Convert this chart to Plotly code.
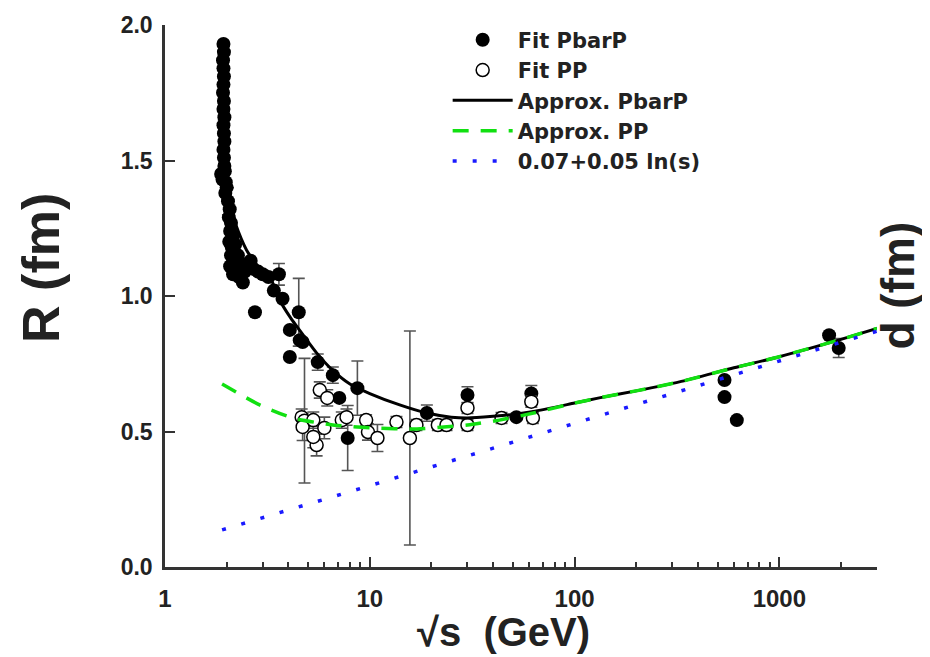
import plotly.graph_objects as go

# ---- data ----
pbarp_x = [1.93, 1.94, 1.92, 1.93, 1.94, 1.93, 1.92, 1.94, 1.93, 1.95, 1.93, 1.94, 1.95, 1.93, 1.94, 1.95,
           1.96, 1.88, 1.91, 1.98, 2.00, 1.97,
           2.03, 2.07, 2.05, 2.10, 2.08, 2.14, 2.06, 2.12, 2.20, 2.10, 2.18, 2.27, 2.08, 2.22, 2.35, 2.15,
           2.30, 2.45, 2.55, 2.40, 2.62, 2.70, 2.85, 3.00, 3.20,
           2.75, 3.60, 3.40, 3.75, 4.07, 4.50, 4.55, 4.70, 4.07, 5.57, 6.60, 7.10, 8.70, 7.80,
           19.0, 30.0, 52.0, 61.5, 540.0, 540.0, 620.0, 1750.0, 1950.0]
pbarp_y = [1.93, 1.90, 1.87, 1.84, 1.81, 1.78, 1.75, 1.72, 1.69, 1.66, 1.63, 1.60, 1.57, 1.54, 1.51, 1.48,
           1.46, 1.45, 1.43, 1.42, 1.40, 1.38,
           1.35, 1.32, 1.29, 1.27, 1.24, 1.22, 1.20, 1.18, 1.19, 1.15, 1.13, 1.15, 1.11, 1.10, 1.12, 1.08,
           1.07, 1.09, 1.11, 1.05, 1.13, 1.10, 1.09, 1.08, 1.07,
           0.94, 1.08, 1.02, 0.99, 0.875, 0.94, 0.837, 0.83, 0.775, 0.756, 0.708, 0.624, 0.66, 0.476,
           0.568, 0.635, 0.553, 0.64, 0.69, 0.627, 0.542, 0.855, 0.808]
pbarp_err = [0] * 22 + [0.05] + [0] * 24 + \
            [0, 0.04, 0, 0, 0, 0.125, 0, 0, 0, 0.03, 0.03, 0, 0.10, 0.12,
             0.03, 0.03, 0, 0.03, 0, 0, 0, 0, 0.035]

pp_x = [4.65, 4.80, 4.70, 5.30, 5.50, 5.30, 5.70, 6.20, 6.00, 7.30, 7.70, 9.60, 9.80, 10.9,
        13.5, 15.7, 16.9, 21.5, 23.7, 30.0, 30.0, 44.0, 62.6, 61.5]
pp_y = [0.553, 0.54, 0.517, 0.542, 0.45, 0.48, 0.653, 0.624, 0.513, 0.542, 0.553, 0.542, 0.498, 0.476,
        0.535, 0.476, 0.524, 0.524, 0.524, 0.587, 0.524, 0.55, 0.55, 0.61]
pp_err = [0.03, 0.23, 0.05, 0.03, 0.04, 0.04, 0.03, 0.03, 0.04, 0.03, 0.03, 0.02, 0.03, 0.05,
          0.02, 0.395, 0.02, 0.02, 0.02, 0.02, 0.02, 0.02, 0.02, 0.02]

approx_pbarp_x = [2.03, 2.2, 2.5, 2.9, 3.3, 3.6, 4.1, 4.9, 5.5, 6.5, 8, 10, 14, 19, 25, 30, 40, 50, 63,
                  100, 132, 200, 325, 600, 1000, 2000, 3000]
approx_pbarp_y = [1.36, 1.27, 1.17, 1.10, 1.06, 0.99, 0.92, 0.84, 0.79, 0.73, 0.675, 0.64, 0.598, 0.568,
                  0.553, 0.55, 0.556, 0.563, 0.574, 0.605, 0.624, 0.65, 0.683, 0.735, 0.776, 0.84, 0.88]

approx_pp_x = [1.9, 2.9, 4.2, 6.6, 10.3, 17, 23, 30, 43, 63, 100, 132, 200, 325, 600, 1000, 2000, 3000]
approx_pp_y = [0.675, 0.598, 0.55, 0.524, 0.513, 0.509, 0.517, 0.524, 0.542, 0.568, 0.605, 0.624, 0.65,
               0.683, 0.735, 0.776, 0.84, 0.88]

logs_x = [1.9, 10, 100, 1000, 3000]
logs_y = [0.137, 0.30, 0.53, 0.76, 0.87]

x_tickvals = [1, 10, 100, 1000]
x_ticktext = ["1", "10", "100", "1000"]
x_minor = [2, 3, 4, 5, 6, 7, 8, 9, 20, 30, 40, 50, 60, 70, 80, 90,
           200, 300, 400, 500, 600, 700, 800, 900, 2000, 3000]
y_tickvals = [0.0, 0.5, 1.0, 1.5, 2.0]
y_ticktext = ["0.0", "0.5", "1.0", "1.5", "2.0"]

FONT = "Liberation Sans, Arial, sans-serif"
LEGFONT = "DejaVu Sans, Liberation Sans, sans-serif"
AX = "#333333"
ERR = "#555555"

fig = go.Figure()

fig.add_trace(go.Scatter(
    x=pbarp_x, y=pbarp_y, mode="markers", name="Fit PbarP",
    marker=dict(symbol="circle", size=14, color="black", line=dict(width=0)),
    error_y=dict(type="data", array=pbarp_err, visible=True, color=ERR, thickness=1.6, width=6),
))
fig.add_trace(go.Scatter(
    x=pp_x, y=pp_y, mode="markers", name="Fit PP",
    marker=dict(symbol="circle", size=13, color="white", line=dict(width=1.5, color="black")),
    error_y=dict(type="data", array=pp_err, visible=True, color=ERR, thickness=1.6, width=6),
))
fig.add_trace(go.Scatter(
    x=approx_pbarp_x, y=approx_pbarp_y, mode="lines", name="Approx. PbarP",
    line=dict(color="black", width=3, shape="spline", smoothing=0.6),
))
fig.add_trace(go.Scatter(
    x=approx_pp_x, y=approx_pp_y, mode="lines", name="Approx. PP",
    line=dict(color="#11e011", width=3.5, dash="16px,12px", shape="spline", smoothing=0.6),
))
fig.add_trace(go.Scatter(
    x=logs_x, y=logs_y, mode="lines", name="0.07+0.05 ln(s)",
    line=dict(color="#1a1aff", width=3.5, dash="4px,16px"),
))

fig.update_layout(
    width=922, height=649,
    margin=dict(l=157, r=53, t=17, b=90, autoexpand=False),
    paper_bgcolor="white", plot_bgcolor="white",
    font=dict(family=FONT, color="#222222"),
    showlegend=True,
    legend=dict(
        x=0.397, y=1.01, xanchor="left", yanchor="top",
        bgcolor="rgba(0,0,0,0)", borderwidth=0,
        font=dict(family=LEGFONT, size=21, color="#222222", weight="bold"),
        itemwidth=60, tracegroupgap=0,
    ),
    xaxis=dict(
        type="log", range=[0, 3.477],
        showgrid=False, zeroline=False,
        showline=True, linecolor=AX, linewidth=2.5, mirror=False,
        ticks="inside", ticklen=10, tickwidth=2, tickcolor=AX,
        tickvals=x_tickvals, ticktext=x_ticktext, ticklabelstandoff=8,
        tickfont=dict(family=FONT, size=24, color="#222222", weight="bold"),
        minor=dict(tickvals=x_minor, ticks="inside", ticklen=5, tickwidth=2, tickcolor=AX, showgrid=False),
    ),
    yaxis=dict(
        range=[0, 2.0],
        showgrid=False, zeroline=False,
        showline=True, linecolor=AX, linewidth=2.5, mirror=False,
        ticks="inside", ticklen=10, tickwidth=2, tickcolor=AX,
        tickvals=y_tickvals, ticktext=y_ticktext, ticklabelstandoff=5,
        tickfont=dict(family=FONT, size=23, color="#222222", weight="bold"),
    ),
    annotations=[
        dict(text="R (fm)", xref="paper", yref="paper", x=-0.174, y=0.552,
             xanchor="center", yanchor="middle", textangle=-90, showarrow=False,
             font=dict(family=FONT, size=52, color="#222222", weight="bold")),
        dict(text="d (fm)", xref="paper", yref="paper", x=1.03, y=0.52,
             xanchor="center", yanchor="middle", textangle=-90, showarrow=False,
             font=dict(family=FONT, size=46, color="#222222", weight="bold")),
        dict(text="√s  (GeV)", xref="paper", yref="paper", x=0.475, y=-0.12,
             xanchor="center", yanchor="middle", showarrow=False,
             font=dict(family=FONT, size=40, color="#222222", weight="bold")),
    ],
)

fig.write_html("out.html")
